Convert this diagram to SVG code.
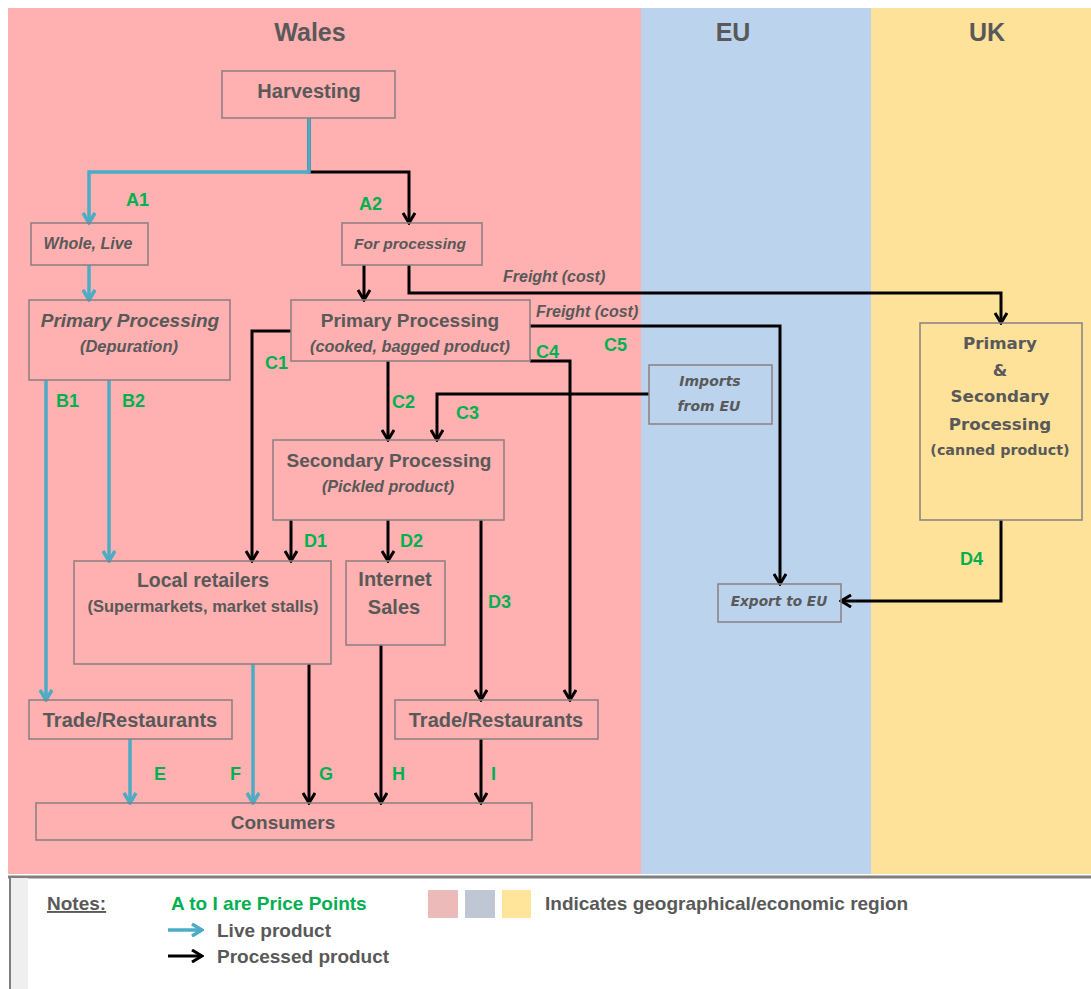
<svg xmlns="http://www.w3.org/2000/svg" width="1091" height="989" viewBox="0 0 1091 989">
<style>
.box{fill:none;stroke:#8a7f80;stroke-width:1.5}
.t{font-family:"Liberation Sans",Arial,sans-serif;font-weight:bold;fill:#595959;text-anchor:middle}
.v{font-family:"DejaVu Sans",Verdana,sans-serif;font-weight:bold;fill:#595959;text-anchor:middle}
.g{font-family:"Liberation Sans",Arial,sans-serif;font-weight:bold;fill:#00B050;font-size:18px}
.lg{font-family:"Liberation Sans",Arial,sans-serif;font-weight:bold;font-size:19px;fill:#595959}
.i{font-style:italic}
.bl{fill:none;stroke:#4BACC6;stroke-width:3.5;marker-end:url(#ab)}
.bk{fill:none;stroke:#000;stroke-width:3;marker-end:url(#ak)}
</style>
<defs>
<marker id="ak" viewBox="0 0 14 14" refX="12" refY="7" markerWidth="14" markerHeight="14" markerUnits="userSpaceOnUse" orient="auto">
<path d="M2,1 L12,7 L2,13" fill="none" stroke="#000" stroke-width="3"/>
</marker>
<marker id="ab" viewBox="0 0 14 14" refX="12" refY="7" markerWidth="14" markerHeight="14" markerUnits="userSpaceOnUse" orient="auto">
<path d="M2,1 L12,7 L2,13" fill="none" stroke="#4BACC6" stroke-width="3.5"/>
</marker>
</defs>
<rect x="0" y="0" width="1091" height="989" fill="#fff"/>
<g id="regions">
<rect x="8" y="8" width="633" height="866" fill="#FFB0B0"/>
<rect x="641" y="8" width="230" height="866" fill="#BCD3EE"/>
<rect x="871" y="8" width="220" height="866" fill="#FFE299"/>
<text x="310" y="41" class="t" font-size="25">Wales</text>
<text x="733" y="41" class="t" font-size="25">EU</text>
<text x="987" y="41" class="t" font-size="25">UK</text>
</g>
<g id="legend">
<rect x="8" y="874" width="1083" height="115" fill="#fff"/>
<line x1="8" y1="877" x2="1091" y2="877" stroke="#7f7f7f" stroke-width="3"/>
<rect x="11" y="878" width="17" height="111" fill="#efefef"/>
<line x1="10" y1="877" x2="10" y2="989" stroke="#7f7f7f" stroke-width="2"/>
<text x="47" y="910" class="lg" text-decoration="underline">Notes:</text>
<text x="171" y="910" class="g" style="font-size:19px">A to I are Price Points</text>
<rect x="428" y="890" width="30" height="28" fill="#EDBABA"/>
<rect x="465" y="890" width="30" height="28" fill="#BFC7D5"/>
<rect x="502" y="890" width="29" height="28" fill="#FFE599"/>
<text x="545" y="910" class="lg">Indicates geographical/economic region</text>
<line x1="168" y1="930" x2="202" y2="930" class="bl"/>
<text x="217" y="937" class="lg">Live product</text>
<line x1="168" y1="956" x2="202" y2="956" class="bk"/>
<text x="217" y="963" class="lg">Processed product</text>
</g>
<g id="connectors">
<path class="bk" d="M309,118 V172 H409 V223"/>
<path class="bl" d="M309,118 V172 H89 V223"/>
<path class="bl" d="M89,265 V300"/>
<path class="bl" d="M46,380 V700"/>
<path class="bl" d="M109,380 V561"/>
<path class="bl" d="M130,739 V803"/>
<path class="bl" d="M253,664 V803"/>
<path class="bk" d="M364,265 V300"/>
<path class="bk" d="M409,265 V293 H1001 V323"/>
<path class="bk" d="M530,326 H780 V584"/>
<path class="bk" d="M530,361 H570 V700"/>
<path class="bk" d="M291,331 H252 V561"/>
<path class="bk" d="M388,361 V440"/>
<path class="bk" d="M649,394 H437 V440"/>
<path class="bk" d="M291,520 V561"/>
<path class="bk" d="M388,520 V561"/>
<path class="bk" d="M481,520 V700"/>
<path class="bk" d="M309,664 V803"/>
<path class="bk" d="M381,645 V803"/>
<path class="bk" d="M481,739 V803"/>
<path class="bk" d="M1001,520 V601 H841"/>
<text x="503" y="282" class="t i" font-size="16" style="text-anchor:start">Freight (cost)</text>
<text x="536" y="317" class="t i" font-size="16" style="text-anchor:start">Freight (cost)</text>
<text x="126" y="206" class="g">A1</text>
<text x="359" y="210" class="g">A2</text>
<text x="56" y="407" class="g">B1</text>
<text x="122" y="407" class="g">B2</text>
<text x="265" y="369" class="g">C1</text>
<text x="392" y="408" class="g">C2</text>
<text x="456" y="419" class="g">C3</text>
<text x="536" y="358" class="g">C4</text>
<text x="604" y="351" class="g">C5</text>
<text x="304" y="547" class="g">D1</text>
<text x="400" y="547" class="g">D2</text>
<text x="488" y="608" class="g">D3</text>
<text x="960" y="565" class="g">D4</text>
<text x="154" y="780" class="g">E</text>
<text x="230" y="780" class="g">F</text>
<text x="319" y="780" class="g">G</text>
<text x="392" y="780" class="g">H</text>
<text x="491" y="780" class="g">I</text>
</g>
<g id="harvesting">
<rect class="box" x="222" y="71" width="173" height="47"/>
<text x="309" y="98" class="t" font-size="20">Harvesting</text>
</g>
<g id="whole-live">
<rect class="box" x="31" y="223" width="117" height="42"/>
<text x="88" y="249" class="t i" font-size="16">Whole, Live</text>
</g>
<g id="for-processing">
<rect class="box" x="342" y="223" width="140" height="42"/>
<text x="410" y="249" class="t i" font-size="15.5">For processing</text>
</g>
<g id="primary-depuration">
<rect class="box" x="29" y="300" width="201" height="80"/>
<text x="130" y="327" class="t i" font-size="19">Primary Processing</text>
<text x="129" y="352" class="t i" font-size="16.5">(Depuration)</text>
</g>
<g id="primary-cooked">
<rect class="box" x="291" y="300" width="239" height="61"/>
<text x="410" y="327" class="t" font-size="19">Primary Processing</text>
<text x="410" y="352" class="t i" font-size="16.3">(cooked, bagged product)</text>
</g>
<g id="secondary">
<rect class="box" x="273" y="440" width="231" height="80"/>
<text x="389" y="467" class="t" font-size="19">Secondary Processing</text>
<text x="388" y="492" class="t i" font-size="16.2">(Pickled product)</text>
</g>
<g id="local-retailers">
<rect class="box" x="74" y="561" width="257" height="103"/>
<text x="203" y="587" class="t" font-size="19.5">Local retailers</text>
<text x="203" y="612" class="t" font-size="16.5">(Supermarkets, market stalls)</text>
</g>
<g id="internet-sales">
<rect class="box" x="346" y="561" width="99" height="84"/>
<text x="395" y="586" class="t" font-size="20">Internet</text>
<text x="394" y="614" class="t" font-size="20">Sales</text>
</g>
<g id="trade-left">
<rect class="box" x="29" y="700" width="203" height="39"/>
<text x="130" y="727" class="t" font-size="20">Trade/Restaurants</text>
</g>
<g id="trade-right">
<rect class="box" x="395" y="700" width="203" height="39"/>
<text x="496" y="727" class="t" font-size="20">Trade/Restaurants</text>
</g>
<g id="consumers">
<rect class="box" x="36" y="803" width="496" height="37"/>
<text x="283" y="829" class="t" font-size="19">Consumers</text>
</g>
<g id="imports-eu">
<rect class="box" x="649" y="365" width="123" height="59"/>
<text x="710" y="386" class="v i" font-size="14">Imports</text>
<text x="709" y="411" class="v i" font-size="14">from EU</text>
</g>
<g id="export-eu">
<rect class="box" x="718" y="584" width="123" height="38"/>
<text x="779" y="606" class="v i" font-size="13.7">Export to EU</text>
</g>
<g id="uk-processing">
<rect class="box" x="920" y="323" width="162" height="197"/>
<text x="1000" y="349" class="v" font-size="16.7">Primary</text>
<text x="1000" y="376" class="v" font-size="16.7">&amp;</text>
<text x="1000" y="402" class="v" font-size="16.7">Secondary</text>
<text x="1000" y="430" class="v" font-size="16.7">Processing</text>
<text x="1000" y="455" class="v" font-size="14.3">(canned product)</text>
</g>
</svg>
